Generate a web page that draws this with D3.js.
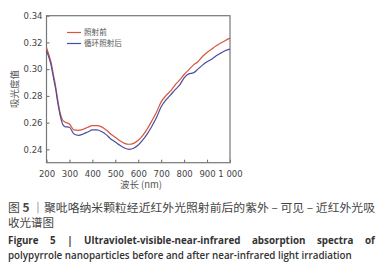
<!DOCTYPE html>
<html><head><meta charset="utf-8">
<script src="https://cdn.jsdelivr.net/npm/d3@7"></script>
<style>body{margin:0;background:#fff}svg{display:block}</style>
</head><body>
<script>
const wavelengths = [200,210,220,230,240,250,260,270,280,300,320,340,360,380,400,420,440,460,480,500,520,540,560,580,600,620,640,660,680,700,720,740,760,780,800,820,840,860,880,900,920,940,960,980,1000];
const before = [0.316,0.311,0.305,0.296,0.287,0.276,0.267,0.262,0.2605,0.259,0.2545,0.2542,0.255,0.2565,0.2578,0.2578,0.2568,0.2545,0.2515,0.249,0.2465,0.2445,0.2438,0.2445,0.2468,0.2505,0.2555,0.2615,0.268,0.2755,0.28,0.2835,0.288,0.2918,0.296,0.2995,0.303,0.3055,0.3095,0.3125,0.315,0.3175,0.3195,0.3215,0.3232];
const after = [0.314,0.309,0.303,0.294,0.285,0.274,0.265,0.259,0.257,0.2565,0.2515,0.2505,0.2515,0.253,0.2545,0.2545,0.2533,0.251,0.2478,0.2455,0.243,0.241,0.24,0.2408,0.2432,0.247,0.2518,0.2575,0.264,0.2718,0.2768,0.2805,0.2845,0.288,0.2935,0.2965,0.2972,0.3,0.303,0.3055,0.3075,0.31,0.312,0.314,0.315];
const seriesNames = ["照射前","循环照射后"];
const xTicks = [200,300,400,500,600,700,800,900,1000];
const xTickLabels = ["200","300","400","500","600","700","800","900","1 000"];
const yTicks = [0.24,0.26,0.28,0.30,0.32,0.34];
const yTickLabels = ["0.24","0.26","0.28","0.30","0.32","0.34"];
const captionCn1 = ["图 ","5"," ｜聚吡咯纳米颗粒经近红外光照射前后的紫外 – 可见 – 近红外光吸"];
const captionCn2 = "收光谱图";
const captionEn1 = "Figure 5 | Ultraviolet-visible-near-infrared absorption spectra of";
const captionEn2 = "polypyrrole nanoparticles before and after near-infrared light irradiation";

const W=385,H=270;
const svg=d3.select("body").append("svg").attr("width",W).attr("height",H);
const L=46.5,R=230,T=15.7,B=162.7;
const x=d3.scaleLinear().domain([200,1000]).range([L,R]);
const y=d3.scaleLinear().domain([0.23,0.34]).range([B,T]);
const tickFont="'DejaVu Sans', sans-serif";
const cjk="'Noto Sans CJK SC', sans-serif";

const xa=svg.append("g").attr("transform",`translate(0,${B})`)
  .call(d3.axisBottom(x).tickValues(xTicks).tickSize(-3).tickPadding(8).tickFormat((d,i)=>xTickLabels[i]));
const ya=svg.append("g").attr("transform",`translate(${L},0)`)
  .call(d3.axisLeft(y).tickValues(yTicks).tickSize(-3).tickPadding(4).tickFormat((d,i)=>yTickLabels[i]));
[xa,ya].forEach(g=>{
  g.select(".domain").remove();
  g.selectAll("line").attr("stroke","#666").attr("stroke-width",1);
  g.selectAll("text").attr("fill","#444").attr("font-family",tickFont).attr("font-size",8.5);
});
xa.selectAll("text").attr("dy","0.71em");
svg.append("rect").attr("x",L).attr("y",T).attr("width",R-L).attr("height",B-T)
  .attr("fill","none").attr("stroke","#777").attr("stroke-width",1.2);

const line=d3.line().x((d,i)=>x(wavelengths[i])).y(d=>y(d)).curve(d3.curveMonotoneX);
const colors=["#d9553c","#4c4c9c"];
[before,after].forEach((s,k)=>{
  svg.append("path").attr("d",line(s)).attr("fill","none").attr("stroke",colors[k]).attr("stroke-width",1.2);
});

seriesNames.forEach((n,k)=>{
  const yy=32.5+k*11;
  svg.append("line").attr("x1",67).attr("x2",81).attr("y1",yy).attr("y2",yy).attr("stroke",colors[k]).attr("stroke-width",1.2);
  svg.append("text").attr("x",84).attr("y",yy).attr("dy","0.36em").attr("font-size",7.6)
    .attr("font-family",cjk).attr("fill","#555").text(n);
});

svg.append("text").attr("x",141).attr("y",185).attr("dy","0.36em").attr("text-anchor","middle")
  .attr("font-size",9.5).attr("font-family",cjk).attr("fill","#555").text("波长 (nm)");
svg.append("text").attr("transform","translate(15,89) rotate(-90)").attr("dy","0.36em").attr("text-anchor","middle")
  .attr("font-size",9.5).attr("font-family",cjk).attr("fill","#555").text("吸光度值");

const c1=svg.append("text").attr("x",8).attr("y",208).attr("dy","0.36em").attr("font-family",cjk)
  .attr("font-size",11.5).attr("fill","#444").attr("textLength",367).attr("lengthAdjust","spacingAndGlyphs");
captionCn1.forEach((s,i)=>c1.append("tspan").attr("font-weight",i===1?700:400).text(s));
svg.append("text").attr("x",8).attr("y",223).attr("dy","0.36em").attr("font-family",cjk)
  .attr("font-size",11.5).attr("fill","#444").text(captionCn2);

const eg=svg.append("g");
const e2=eg.append("text").attr("x",0).attr("y",255).attr("dy","0.36em").attr("font-family","'Open Sans', sans-serif")
  .attr("font-weight",600).attr("font-size",10.5).attr("fill","#333").text(captionEn2);
const k=344/e2.node().getComputedTextLength();
const e1=eg.append("text").attr("x",0).attr("y",240).attr("dy","0.36em").attr("font-family","'Open Sans', sans-serif")
  .attr("font-weight",700).attr("font-size",10.5).attr("fill","#333").text(captionEn1);
const n1=e1.node().getComputedTextLength();
const spaces=captionEn1.split(" ").length-1;
e1.attr("word-spacing",((367/k)-n1)/spaces);
eg.attr("transform",`translate(8,0) scale(${k},1)`);
</script>
</body></html>
